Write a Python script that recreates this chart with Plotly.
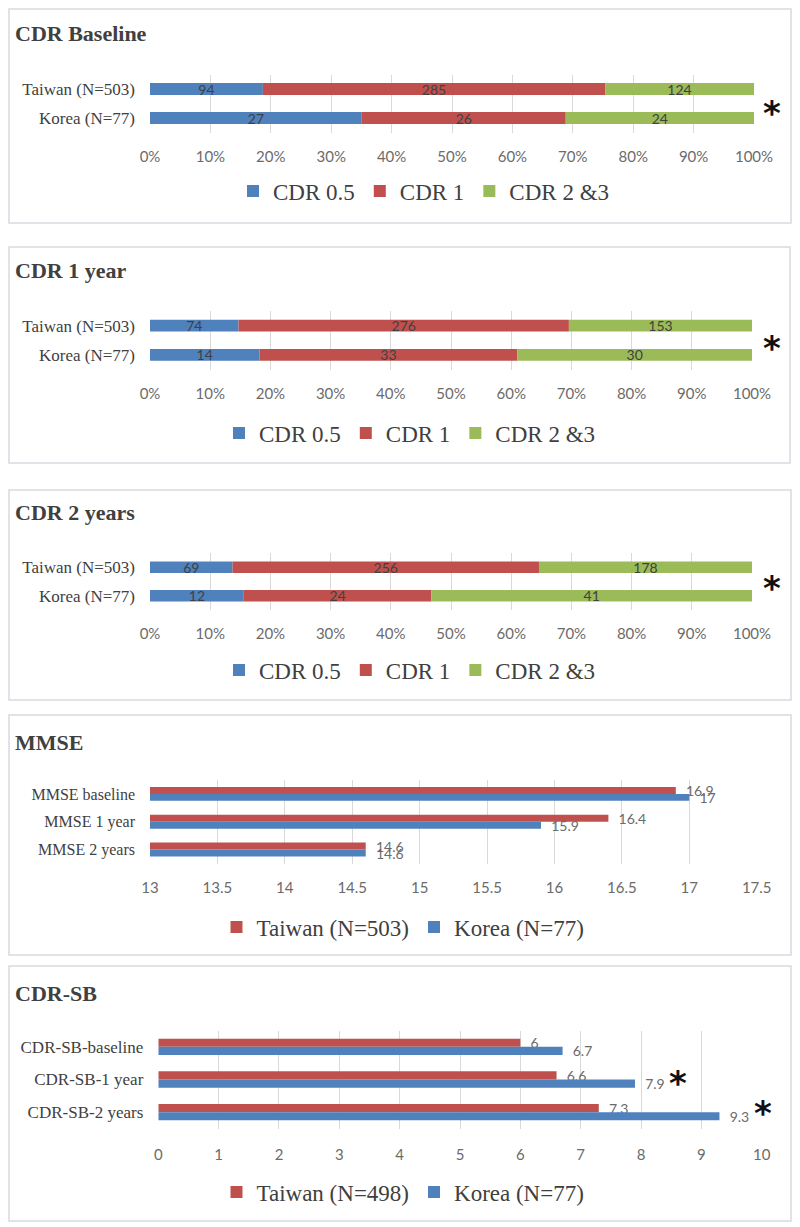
import plotly.graph_objects as go

# ---------------- data ----------------
groups = ["Taiwan (N=503)", "Korea (N=77)"]
cdr_levels = ["CDR 0.5", "CDR 1", "CDR 2 &3"]

cdr_baseline_taiwan = [94, 285, 124]
cdr_baseline_korea = [27, 26, 24]
cdr_1yr_taiwan = [74, 276, 153]
cdr_1yr_korea = [14, 33, 30]
cdr_2yr_taiwan = [69, 256, 178]
cdr_2yr_korea = [12, 24, 41]

mmse_labels = ["MMSE baseline", "MMSE 1 year", "MMSE 2 years"]
mmse_series = ["Taiwan (N=503)", "Korea (N=77)"]
mmse_taiwan = [16.9, 16.4, 14.6]
mmse_korea = [17, 15.9, 14.6]

cdrsb_labels = ["CDR-SB-baseline", "CDR-SB-1 year", "CDR-SB-2 years"]
cdrsb_series = ["Taiwan (N=498)", "Korea (N=77)"]
cdrsb_taiwan = [6, 6.6, 7.3]
cdrsb_korea = [6.7, 7.9, 9.3]

# ---------------- styling ----------------
OFF = 8  # page body margin
W, H = 800 - OFF, 1227 - OFF
BLUE, RED, GREEN = "#4F81BD", "#C0504D", "#9BBB59"
level_colors = [BLUE, RED, GREEN]
SERIF = "Liberation Serif"
SANS = "Lato"
TXT = "#404040"
TICK = "#6b6b6b"
GRID = "#d9d9d9"
NB = "\u00a0"


def px(x):
    return (x - OFF) / W


def py(y):
    return 1 - (y - OFF) / H


fig = go.Figure()

stack_panels = [
    (cdr_baseline_taiwan, cdr_baseline_korea),
    (cdr_1yr_taiwan, cdr_1yr_korea),
    (cdr_2yr_taiwan, cdr_2yr_korea),
]

for p, (tw, ko) in enumerate(stack_panels):
    n = p + 1
    ax = "" if n == 1 else str(n)
    tot_t, tot_k = sum(tw), sum(ko)
    cum_t, cum_k = 0.0, 0.0
    for i, lvl in enumerate(cdr_levels):
        pt = tw[i] / tot_t * 100
        pk = ko[i] / tot_k * 100
        fig.add_trace(go.Bar(
            orientation="h", y=groups, x=[pt, pk], base=[cum_t, cum_k],
            name=lvl, marker=dict(color=level_colors[i], line=dict(width=0)),
            width=0.41, offset=-0.205,
            text=[tw[i], ko[i]], textposition="inside", insidetextanchor="middle",
            textangle=0, constraintext="none",
            insidetextfont=dict(family=SANS, size=14, color=TXT),
            xaxis="x" + ax, yaxis="y" + ax, legend="legend" + ax,
            hoverinfo="skip",
        ))
        cum_t += pt
        cum_k += pk

# grouped panels
grouped = [
    (4, mmse_labels, mmse_series, mmse_taiwan, mmse_korea),
    (5, cdrsb_labels, cdrsb_series, cdrsb_taiwan, cdrsb_korea),
]
for n, labels, series, tw, ko in grouped:
    ax = str(n)
    for s, vals, col, off in [(series[0], tw, RED, -0.25), (series[1], ko, BLUE, 0.0)]:
        fig.add_trace(go.Bar(
            orientation="h", y=labels, x=vals, name=s,
            marker=dict(color=col, line=dict(width=0)),
            width=0.25, offset=off,
            text=[NB * 2 + f"{v:g}" for v in vals], textposition="outside",
            textangle=0, constraintext="none", cliponaxis=False,
            outsidetextfont=dict(family=SANS, size=14, color=TICK),
            xaxis="x" + ax, yaxis="y" + ax, legend="legend" + ax,
            hoverinfo="skip",
        ))

# ---------------- layout ----------------
panels = [
    dict(x=(150, 754), y=(74.5, 132.5), ncat=2, rng=[0, 100], dtick=10, suf="%", yfs=17, ts=13),
    dict(x=(150, 752), y=(311, 369.5), ncat=2, rng=[0, 100], dtick=10, suf="%", yfs=17, ts=13),
    dict(x=(150, 752), y=(553, 610), ncat=2, rng=[0, 100], dtick=10, suf="%", yfs=17, ts=13),
    dict(x=(150, 756.7), y=(780, 863.5), ncat=3, rng=[13, 17.5], dtick=0.5, suf="", yfs=16, ts=13),
    dict(x=(158.3, 761.7), y=(1030.5, 1128.5), ncat=3, rng=[0, 10], dtick=1, suf="", yfs=17, ts=15),
]

layout = dict(
    width=W, height=H, margin=dict(l=0, r=0, t=0, b=0, pad=0, autoexpand=False),
    paper_bgcolor="white", plot_bgcolor="white",
    barmode="group", showlegend=True,
)

for i, p in enumerate(panels):
    n = i + 1
    ax = "" if n == 1 else str(n)
    layout["xaxis" + ax] = dict(
        domain=[px(p["x"][0]), px(p["x"][1])], range=p["rng"], dtick=p["dtick"], tick0=p["rng"][0],
        ticksuffix=p["suf"], showgrid=True, gridcolor=GRID, gridwidth=1, zeroline=False,
        showline=False, ticks="", tickfont=dict(family=SANS, size=15, color=TICK),
        ticklabelstandoff=p["ts"], anchor="y" + ax, fixedrange=True, automargin=False,
    )
    layout["yaxis" + ax] = dict(
        domain=[py(p["y"][1]), py(p["y"][0])], range=[p["ncat"] - 0.5, -0.5],
        showgrid=False, zeroline=False, showline=False, ticks="",
        tickfont=dict(family=SERIF, size=p["yfs"], color=TXT),
        ticklabelstandoff=14, anchor="x" + ax, fixedrange=True, automargin=False,
    )

legend_pos = [(424, 191), (410, 433), (410, 670), (403, 927), (403, 1192)]
for i, (lx, ly) in enumerate(legend_pos):
    n = i + 1
    key = "legend" if n == 1 else "legend" + str(n)
    layout[key] = dict(
        orientation="h", x=px(lx), xanchor="center", y=py(ly), yanchor="middle",
        font=dict(family=SERIF, size=23, color=TXT), bgcolor="rgba(0,0,0,0)",
        itemwidth=30, traceorder="normal",
    )

# panel boxes (kept inside the drawable page area)
boxes = [(9, 9, 791, 223), (9, 247, 790, 463), (9, 490, 791, 700), (9, 715, 791, 955), (9, 966, 791, 1221)]
shapes = []
for (x0, y0, x1, y1) in boxes:
    shapes.append(dict(type="rect", xref="paper", yref="paper", x0=px(x0), x1=px(x1),
                       y0=py(y1), y1=py(y0), line=dict(color="#d6dbe2", width=1.5),
                       fillcolor="rgba(0,0,0,0)", layer="below"))
layout["shapes"] = shapes

titles = [("CDR Baseline", 33), ("CDR 1 year", 270), ("CDR 2 years", 512), ("MMSE", 742), ("CDR-SB", 993)]
ann = []
for t, y in titles:
    ann.append(dict(text="<b>" + t + "</b>", xref="paper", yref="paper", x=px(13), y=py(y),
                    xanchor="left", yanchor="middle", showarrow=False,
                    font=dict(family=SERIF, size=22, color=TXT)))
stars = [(772, 105), (772, 340), (772, 580), (678, 1075), (763, 1105)]
for sx, sy in stars:
    ann.append(dict(text="<b>*</b>", xref="paper", yref="paper", x=px(sx), y=py(sy),
                    xanchor="center", yanchor="middle", showarrow=False, yshift=-8,
                    font=dict(family="DejaVu Sans", size=34, color="#111111")))
layout["annotations"] = ann

fig.update_layout(**layout)
fig.write_html("out.html")
